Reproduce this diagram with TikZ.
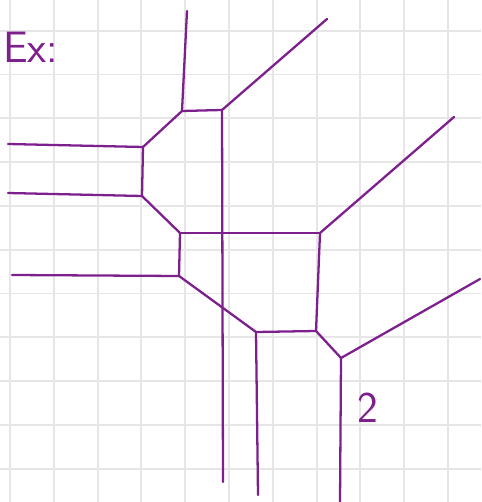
\documentclass[tikz,border=0pt]{standalone}
\usepackage{tikz}
\definecolor{dpurple}{HTML}{7E1F8E}
\definecolor{lgrey}{HTML}{E6E6E6}
\tikzset{
  gridln/.style={lgrey,line width=1.1pt},
  vedge/.style={dpurple,line width=1.3pt,line cap=round,line join=round},
  hand/.style={text=dpurple,font=\sffamily\fontsize{25}{25}\selectfont,inner sep=0pt},
}
\begin{document}
\begin{tikzpicture}[x=0.02cm,y=-0.02cm]
\useasboundingbox (0,0) rectangle (481,502);
\fill[white] (0,0) rectangle (481,502);
% squared paper
\foreach \k in {0,...,10}{
  \draw[gridln] ({10+43.8*\k},0) -- ({10+43.8*\k},502);
  \draw[gridln] (0,{30.7+43.8*\k}) -- (481,{30.7+43.8*\k});}
% vertices and free ends
\coordinate (a) at (182,111);
\coordinate (b) at (222,110);
\coordinate (c) at (143,147);
\coordinate (d) at (142,196);
\coordinate (e) at (180,233);
\coordinate (f) at (320,233);
\coordinate (g) at (179,276);
\coordinate (h) at (256,332);
\coordinate (i) at (316,331);
\coordinate (j) at (341,358);
\coordinate (at) at (187,11);
\coordinate (bt) at (327,19);
\coordinate (cl) at (8,144);
\coordinate (dl) at (8,193);
\coordinate (fr) at (454,117);
\coordinate (gl) at (12,275);
\coordinate (bb) at (223,482);
\coordinate (hb) at (258,495);
\coordinate (jr) at (480,279);
\coordinate (jb) at (340,502);
% edges
\foreach \u/\v in {a/at,a/b,b/bt,a/c,c/cl,c/d,d/dl,d/e,e/f,f/fr,e/g,g/gl,
  b/bb,g/h,h/hb,h/i,f/i,i/j,j/jr,j/jb}
  \draw[vedge] (\u) -- (\v);
% labels
\node[hand,anchor=west] (ex) at (3,47) {Ex:};
\node[hand] (two) at (368,408) {2};
\end{tikzpicture}
\end{document}
